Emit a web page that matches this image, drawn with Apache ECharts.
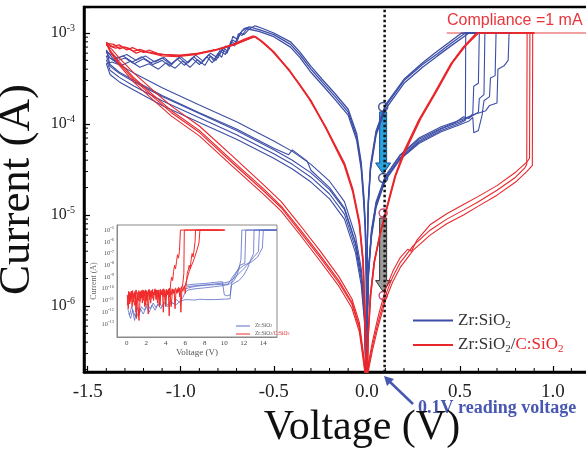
<!DOCTYPE html>
<html>
<head>
<meta charset="utf-8">
<script src="https://cdn.jsdelivr.net/npm/echarts@6/dist/echarts.min.js"></script>
<style>
  html, body { margin: 0; padding: 0; background: #fff; }
  #chart { width: 586px; height: 450px; }
</style>
</head>
<body>
<div id="chart"></div>
<script>
// ---- data: [voltage (V), current (A)] ----

// Zr:SiO2, positive sweep in HRS, SET steps up to compliance
const blueHrsPos = [
  [[0.0002,1.5e-7],[0.003,7e-7],[0.01,2.4e-6],[0.025,6e-6],[0.05,1.25e-5],[0.1,2.45e-5],[0.18,4.2e-5],[0.28,6.3e-5],[0.4,8.5e-5],[0.5,1.02e-4],[0.53,1.1e-4],[0.532,1e-3],[0.78,1e-3]],
  [[0.0002,1.5e-7],[0.003,7.5e-7],[0.01,2.6e-6],[0.025,6.5e-6],[0.05,1.35e-5],[0.1,2.6e-5],[0.18,4.5e-5],[0.28,6.8e-5],[0.4,9e-5],[0.48,1.05e-4],[0.52,1.2e-4],[0.55,1.15e-4],[0.57,1.3e-4],[0.575,2.6e-4],[0.6,2.8e-4],[0.605,1e-3],[0.78,1e-3]],
  [[0.0002,1.5e-7],[0.003,6.5e-7],[0.01,2.2e-6],[0.025,5.6e-6],[0.05,1.2e-5],[0.1,2.4e-5],[0.18,4.1e-5],[0.28,6.1e-5],[0.4,8.2e-5],[0.5,9.8e-5],[0.55,1.08e-4],[0.57,1.18e-4],[0.575,8e-5],[0.6,8.5e-5],[0.62,1.25e-4],[0.63,1.8e-4],[0.66,2e-4],[0.665,3.2e-4],[0.69,3.4e-4],[0.695,1e-3],[0.78,1e-3]],
  [[0.0002,1.5e-7],[0.003,8e-7],[0.01,2.7e-6],[0.025,6.8e-6],[0.05,1.4e-5],[0.1,2.7e-5],[0.18,4.6e-5],[0.28,7e-5],[0.4,9.3e-5],[0.5,1.1e-4],[0.58,1.28e-4],[0.64,1.4e-4],[0.66,1.6e-4],[0.7,1.7e-4],[0.705,4e-4],[0.74,4.4e-4],[0.76,5e-4],[0.765,1e-3],[0.78,1e-3]],
  [[0.0002,1.5e-7],[0.003,7e-7],[0.01,2.5e-6],[0.025,6.2e-6],[0.05,1.3e-5],[0.1,2.5e-5],[0.18,4.3e-5],[0.28,6.5e-5],[0.4,8.8e-5],[0.5,1.06e-4],[0.56,1.2e-4],[0.6,1.35e-4],[0.605,1.9e-4],[0.63,2.1e-4],[0.635,1e-3],[0.78,1e-3]]
];
// Zr:SiO2, LRS back to 0
const blueLrsPos = [
  [[0.78,1e-3],[0.53,1e-3],[0.45,7.6e-4],[0.38,5.9e-4],[0.3,4.5e-4],[0.2,3e-4],[0.1,1.55e-4],[0.05,8e-5],[0.02,3.3e-5],[0.008,1.35e-5],[0.003,5e-6],[0.0008,1.4e-6],[0.0001,1.5e-7]],
  [[0.78,1e-3],[0.55,1e-3],[0.46,7.4e-4],[0.38,5.6e-4],[0.3,4.2e-4],[0.2,2.8e-4],[0.1,1.45e-4],[0.05,7.5e-5],[0.02,3.1e-5],[0.008,1.25e-5],[0.003,4.6e-6],[0.0008,1.3e-6],[0.0001,1.5e-7]],
  [[0.78,1e-3],[0.51,1e-3],[0.44,7.8e-4],[0.37,6.1e-4],[0.3,4.7e-4],[0.2,3.1e-4],[0.1,1.62e-4],[0.05,8.4e-5],[0.02,3.5e-5],[0.008,1.4e-5],[0.003,5.3e-6],[0.0008,1.5e-6],[0.0001,1.5e-7]]
];
// Zr:SiO2, negative sweep in LRS
const blueLrsNeg = [
  [[-0.0001,1.5e-7],[-0.002,2e-6],[-0.008,7.5e-6],[-0.016,1.5e-5],[-0.03,3.5e-5],[-0.054,7.2e-5],[-0.1,1.35e-4],[-0.17,2e-4],[-0.24,2.9e-4],[-0.3,4e-4],[-0.36,5.8e-4],[-0.41,7.5e-4],[-0.5,9.6e-4],[-0.575,1.08e-3],[-0.63,1.17e-3]],
  [[-0.0001,1.5e-7],[-0.002,1.8e-6],[-0.008,6.8e-6],[-0.016,1.35e-5],[-0.03,3.2e-5],[-0.054,6.6e-5],[-0.1,1.25e-4],[-0.17,1.85e-4],[-0.24,2.7e-4],[-0.3,3.7e-4],[-0.36,5.4e-4],[-0.41,7e-4],[-0.5,9.1e-4],[-0.58,1.04e-3],[-0.65,1.12e-3]],
  [[-0.0001,1.5e-7],[-0.002,2.2e-6],[-0.008,8.2e-6],[-0.016,1.65e-5],[-0.03,3.8e-5],[-0.054,7.8e-5],[-0.1,1.45e-4],[-0.17,2.15e-4],[-0.24,3.1e-4],[-0.3,4.3e-4],[-0.36,6.2e-4],[-0.41,8e-4],[-0.5,1e-3],[-0.56,1.12e-3],[-0.6,1.2e-3]]
];
// Zr:SiO2, noisy RESET towards -1.4 V
const blueReset = [
  [[-0.63,1.17e-3],[-0.66,1.12e-3],[-0.68,1.0e-3],[-0.7,8.6e-4],[-0.72,9.2e-4],[-0.74,6.6e-4],[-0.76,7.2e-4],[-0.78,5.4e-4],[-0.8,6e-4],[-0.83,4.7e-4],[-0.86,5.5e-4],[-0.9,4.5e-4],[-0.94,5.3e-4],[-0.98,4.4e-4],[-1.02,5.2e-4],[-1.06,4.3e-4],[-1.1,5e-4],[-1.15,4.5e-4],[-1.2,5.2e-4],[-1.25,4.6e-4],[-1.3,5.3e-4],[-1.35,4.9e-4],[-1.4,5.6e-4]],
  [[-0.65,1.12e-3],[-0.67,1.05e-3],[-0.69,9e-4],[-0.71,7.6e-4],[-0.73,8.2e-4],[-0.75,6e-4],[-0.78,6.6e-4],[-0.81,5e-4],[-0.84,5.6e-4],[-0.87,4.4e-4],[-0.91,5.1e-4],[-0.95,4.2e-4],[-0.99,4.9e-4],[-1.03,4.1e-4],[-1.08,4.7e-4],[-1.12,4e-4],[-1.17,4.6e-4],[-1.22,4.2e-4],[-1.27,4.9e-4],[-1.32,4.4e-4],[-1.37,4.8e-4],[-1.4,4.6e-4]],
  [[-0.6,1.2e-3],[-0.62,1.15e-3],[-0.64,1.06e-3],[-0.66,9.6e-4],[-0.68,1.0e-3],[-0.7,7.8e-4],[-0.72,8.4e-4],[-0.75,6.3e-4],[-0.77,6.9e-4],[-0.8,5.3e-4],[-0.84,6e-4],[-0.88,4.9e-4],[-0.92,5.7e-4],[-0.96,4.7e-4],[-1.0,5.5e-4],[-1.05,4.6e-4],[-1.09,5.4e-4],[-1.14,4.8e-4],[-1.19,5.6e-4],[-1.24,5e-4],[-1.29,5.8e-4],[-1.34,5.3e-4],[-1.4,6.2e-4]],
  [[-0.63,1.17e-3],[-0.65,1.08e-3],[-0.67,9.4e-4],[-0.69,9.8e-4],[-0.71,7.2e-4],[-0.73,7.8e-4],[-0.76,5.8e-4],[-0.79,6.4e-4],[-0.82,4.9e-4],[-0.85,5.8e-4],[-0.89,4.6e-4],[-0.93,5.5e-4],[-0.97,4.6e-4],[-1.01,5.4e-4],[-1.05,4.5e-4],[-1.1,5.3e-4],[-1.16,4.7e-4],[-1.21,5.5e-4],[-1.26,4.8e-4],[-1.31,5.6e-4],[-1.36,5.1e-4],[-1.4,6.5e-4]]
];
// Zr:SiO2, HRS back to 0 from -1.4 V
const blueHrsNeg = [
  [[-1.4,5.6e-4],[-1.38,4.3e-4],[-1.33,3.6e-4],[-1.25,2.9e-4],[-1.1,2e-4],[-0.9,1.3e-4],[-0.7,8.5e-5],[-0.5,5.2e-5],[-0.4,4e-5],[-0.3,2.9e-5],[-0.2,1.9e-5],[-0.12,1.15e-5],[-0.06,4.8e-6],[-0.03,2.2e-6],[-0.012,8e-7],[-0.004,1.5e-7]],
  [[-1.4,4.6e-4],[-1.38,3.5e-4],[-1.33,2.9e-4],[-1.25,2.35e-4],[-1.1,1.6e-4],[-0.9,1.04e-4],[-0.7,6.8e-5],[-0.5,4.2e-5],[-0.4,3.2e-5],[-0.3,2.3e-5],[-0.2,1.5e-5],[-0.12,9e-6],[-0.06,3.8e-6],[-0.03,1.7e-6],[-0.012,6.5e-7],[-0.004,1.5e-7]],
  [[-1.4,6.2e-4],[-1.38,5.3e-4],[-1.33,4.5e-4],[-1.25,3.6e-4],[-1.1,2.5e-4],[-0.9,1.62e-4],[-0.7,1.06e-4],[-0.5,6.5e-5],[-0.4,5e-5],[-0.3,3.6e-5],[-0.2,2.35e-5],[-0.12,1.4e-5],[-0.06,5.8e-6],[-0.03,2.6e-6],[-0.012,9.5e-7],[-0.004,1.6e-7]],
  [[-1.4,6.5e-4],[-1.38,4.5e-4],[-1.33,3.7e-4],[-1.25,3e-4],[-1.1,2.05e-4],[-0.9,1.33e-4],[-0.7,8.8e-5],[-0.5,5.4e-5],[-0.42,4.6e-5],[-0.4,5.2e-5],[-0.32,3.9e-5],[-0.3,3.1e-5],[-0.2,2e-5],[-0.12,1.2e-5],[-0.06,5e-6],[-0.03,2.3e-6],[-0.012,8.5e-7],[-0.004,1.5e-7]],
  [[-1.4,5.1e-4],[-1.38,3.9e-4],[-1.33,3.25e-4],[-1.25,2.6e-4],[-1.1,1.8e-4],[-0.9,1.17e-4],[-0.7,7.6e-5],[-0.5,4.7e-5],[-0.4,3.6e-5],[-0.3,2.6e-5],[-0.2,1.7e-5],[-0.12,1.02e-5],[-0.06,4.3e-6],[-0.03,1.95e-6],[-0.012,7.2e-7],[-0.004,1.5e-7]]
];

// Zr:SiO2/C:SiO2, positive sweep in HRS, SET near 0.87 V
const redHrsPos = [
  [[0.0003,1.5e-7],[0.01,2.2e-7],[0.03,3.6e-7],[0.06,6.5e-7],[0.1,1.3e-6],[0.14,2.1e-6],[0.18,3e-6],[0.25,4.6e-6],[0.34,6.8e-6],[0.43,9e-6],[0.52,1.13e-5],[0.6,1.4e-5],[0.7,1.87e-5],[0.8,2.6e-5],[0.85,3.3e-5],[0.86,3.6e-5],[0.862,1e-3],[0.9,1e-3]],
  [[0.0003,1.5e-7],[0.01,2.4e-7],[0.03,4e-7],[0.06,7.5e-7],[0.1,1.5e-6],[0.14,2.4e-6],[0.18,3.4e-6],[0.22,4.2e-6],[0.24,4.0e-6],[0.27,5.3e-6],[0.34,7.8e-6],[0.43,1.03e-5],[0.52,1.3e-5],[0.6,1.6e-5],[0.7,2.1e-5],[0.8,2.95e-5],[0.86,3.8e-5],[0.875,4.2e-5],[0.877,1e-3],[0.9,1e-3]],
  [[0.0003,1.5e-7],[0.01,2e-7],[0.03,3.2e-7],[0.06,5.8e-7],[0.1,1.15e-6],[0.14,1.85e-6],[0.18,2.65e-6],[0.25,4.1e-6],[0.34,6e-6],[0.43,8e-6],[0.52,1e-5],[0.6,1.25e-5],[0.7,1.65e-5],[0.8,2.3e-5],[0.86,3e-5],[0.89,3.5e-5],[0.892,1e-3],[0.9,1e-3]]
];
const redLrsPos = [
  [[0.9,1e-3],[0.59,1e-3],[0.52,7e-4],[0.45,4.5e-4],[0.36,2.1e-4],[0.28,1.1e-4],[0.2,5e-5],[0.15,2.6e-5],[0.1,1.05e-5],[0.07,6e-6],[0.04,3e-6],[0.02,1.3e-6],[0.008,5e-7],[0.002,1.5e-7]],
  [[0.9,1e-3],[0.6,1e-3],[0.53,7.2e-4],[0.46,4.7e-4],[0.37,2.2e-4],[0.29,1.15e-4],[0.21,5.2e-5],[0.155,2.7e-5],[0.104,1.1e-5],[0.072,6.2e-6],[0.041,3.1e-6],[0.02,1.3e-6],[0.008,5e-7],[0.002,1.5e-7]]
];
const redLrsNeg = [
  [[-0.002,1.5e-7],[-0.008,6e-7],[-0.02,3e-6],[-0.04,8e-6],[-0.075,1.8e-5],[-0.12,3.5e-5],[-0.215,8.6e-5],[-0.3,1.8e-4],[-0.36,2.7e-4],[-0.414,3.8e-4],[-0.5,6.2e-4],[-0.56,8e-4],[-0.6,9.2e-4]],
  [[-0.002,1.5e-7],[-0.008,6.5e-7],[-0.02,3.2e-6],[-0.04,8.5e-6],[-0.075,1.9e-5],[-0.12,3.7e-5],[-0.22,9.2e-5],[-0.31,1.9e-4],[-0.37,2.85e-4],[-0.42,4e-4],[-0.51,6.4e-4],[-0.57,8.2e-4],[-0.61,9.3e-4]]
];
const redReset = [
  [[-0.6,9.2e-4],[-0.65,8.4e-4],[-0.7,7.6e-4],[-0.8,6.6e-4],[-0.9,6e-4],[-1.0,5.7e-4],[-1.1,5.8e-4],[-1.18,6.2e-4],[-1.22,6.6e-4],[-1.25,6.3e-4],[-1.3,7e-4],[-1.33,6.7e-4],[-1.36,7.5e-4],[-1.4,7.7e-4]],
  [[-0.61,9.3e-4],[-0.66,8.5e-4],[-0.72,7.5e-4],[-0.82,6.5e-4],[-0.92,5.9e-4],[-1.02,5.6e-4],[-1.12,5.9e-4],[-1.17,6.5e-4],[-1.2,6.1e-4],[-1.26,6.9e-4],[-1.29,6.5e-4],[-1.33,7.4e-4],[-1.37,7.1e-4],[-1.4,7.9e-4]],
  [[-0.6,9.2e-4],[-0.66,8.2e-4],[-0.72,7.3e-4],[-0.82,6.4e-4],[-0.92,5.8e-4],[-1.02,5.5e-4],[-1.1,5.6e-4],[-1.16,6e-4],[-1.21,6.3e-4],[-1.24,6e-4],[-1.28,6.8e-4],[-1.32,7.1e-4],[-1.35,6.8e-4],[-1.4,7.4e-4]]
];
const redHrsNeg = [
  [[-1.4,7.7e-4],[-1.38,6.5e-4],[-1.33,4.8e-4],[-1.25,3.2e-4],[-1.15,2.1e-4],[-1.05,1.4e-4],[-0.9,8.5e-5],[-0.72,3.9e-5],[-0.55,1.9e-5],[-0.46,1.25e-5],[-0.36,7e-6],[-0.25,3.6e-6],[-0.15,1.9e-6],[-0.08,1.1e-6],[-0.04,6e-7],[-0.015,2.5e-7],[-0.005,1.5e-7]],
  [[-1.4,7.9e-4],[-1.38,6.2e-4],[-1.33,4.4e-4],[-1.25,2.85e-4],[-1.15,1.85e-4],[-1.05,1.22e-4],[-0.9,7.4e-5],[-0.72,3.4e-5],[-0.55,1.65e-5],[-0.46,1.1e-5],[-0.36,6.1e-6],[-0.25,3.1e-6],[-0.15,1.65e-6],[-0.08,9.5e-7],[-0.04,5.2e-7],[-0.015,2.2e-7],[-0.005,1.5e-7]],
  [[-1.4,7.4e-4],[-1.37,6.6e-4],[-1.33,5.3e-4],[-1.25,3.6e-4],[-1.15,2.35e-4],[-1.05,1.57e-4],[-0.9,9.5e-5],[-0.72,4.4e-5],[-0.55,2.1e-5],[-0.46,1.4e-5],[-0.36,7.8e-6],[-0.25,4e-6],[-0.15,2.1e-6],[-0.08,1.2e-6],[-0.04,6.6e-7],[-0.015,2.7e-7],[-0.005,1.5e-7]],
  [[-1.4,7.7e-4],[-1.38,6.3e-4],[-1.33,4.6e-4],[-1.25,3.05e-4],[-1.15,2e-4],[-1.05,1.33e-4],[-0.9,8.1e-5],[-0.72,3.7e-5],[-0.55,1.8e-5],[-0.46,1.2e-5],[-0.36,6.6e-6],[-0.25,3.4e-6],[-0.15,1.8e-6],[-0.08,1.05e-6],[-0.04,5.7e-7],[-0.015,2.4e-7],[-0.005,1.5e-7]]
];

// compliance line, reading voltage, arrows and markers
const compliance = [[0.43,1e-3],[1.2,1e-3]];
const readLine = [[0.096,1.8e-3],[0.096,1.5e-7]];
const arrowData = [[0.088,1.54e-4,2.55e-5],[0.088,1.05e-5,1.3e-6]];
const blueMarks = [[0.088,1.54e-4],[0.088,2.55e-5]];
const redMarks = [[0.088,1.05e-5],[0.088,1.3e-6]];

// inset: forming sweeps (0 - 15 V)
const insetBlue = [
  [[0.1,2e-12],[0.3,6e-13],[0.5,3e-12],[0.7,1e-12],[0.9,4e-13],[1.1,2.5e-12],[1.3,8e-13],[1.5,3e-12],[1.8,1.5e-12],[2.1,5e-12],[2.4,2e-12],[2.7,6e-12],[3.0,2.5e-12],[3.3,7e-12],[3.6,3e-12],[3.9,8e-12],[4.2,4e-12],[4.5,9e-12],[4.8,5e-12],[5.1,1.2e-11],[5.4,7e-12],[5.7,1.5e-11],[6.0,5e-11],[6.3,8e-11],[7,1e-10],[8,1.2e-10],[9,1.5e-10],[10,1.9e-10],[10.5,2.5e-10],[11,5e-10],[11.3,1.5e-9],[11.5,5e-9],[11.7,3e-8],[11.8,1e-5],[15.4,1e-5]],
  [[0.2,8e-13],[0.4,3e-13],[0.6,1.5e-12],[0.8,2e-13],[1.0,1e-12],[1.2,4e-13],[1.4,2e-12],[1.7,7e-13],[2.0,3e-12],[2.3,1e-12],[2.6,4e-12],[2.9,1.5e-12],[3.2,5e-12],[3.5,2e-12],[3.8,6e-12],[4.2,3e-12],[4.6,7e-12],[5.0,4e-12],[5.5,9e-12],[6.0,1.2e-11],[7,1.1e-11],[7.5,1.3e-11],[8,1.2e-11],[9,1.2e-11],[10,1.3e-11],[10.6,1.4e-11],[10.7,2e-10],[11,3e-10],[11.5,5e-10],[12,1.5e-9],[12.4,6e-9],[12.7,3e-8],[13,1e-7],[13.05,1e-5],[15.4,1e-5]],
  [[6.0,1e-10],[7,1.6e-10],[8,2e-10],[9,2.6e-10],[10,3.2e-10],[10.5,4e-10],[11,8e-10],[11.5,2e-9],[12,5e-9],[12.5,1.5e-8],[13,5e-8],[13.5,1.5e-7],[13.6,1e-5],[15.4,1e-5]],
  [[6.0,2e-10],[7,2.5e-10],[8,2.8e-10],[9,3.5e-10],[9.8,4e-10],[10,3e-11],[10.3,2.5e-11],[10.6,3e-11],[10.8,5e-10],[11.2,2e-9],[11.6,1e-8],[12.1,1.5e-8],[12.2,1e-5],[15.4,1e-5]],
  [[6.2,1.5e-10],[7.5,2e-10],[9,2.2e-10],[10.4,2.5e-10],[10.9,1.2e-9],[11.4,4e-9],[12,1e-8],[12.8,2e-8],[13.4,5e-8],[13.9,3e-7],[14,1e-5],[15.4,1e-5]]
];
const insetRed = [
  [[0.05,3e-11],[0.15,2e-12],[0.25,5e-11],[0.35,1e-11],[0.45,6e-11],[0.55,3e-12],[0.65,4e-11],[0.75,1.5e-11],[0.85,6e-11],[0.95,1e-12],[1.05,5e-11],[1.15,2e-11],[1.25,7e-11],[1.35,8e-12],[1.45,6e-11],[1.55,2e-11],[1.65,8e-11],[1.75,1e-11],[1.85,6e-11],[1.95,4e-12],[2.05,7e-11],[2.15,2e-11],[2.25,8e-11],[2.35,1.2e-11],[2.45,6e-11],[2.55,2.5e-11],[2.65,9e-11],[2.75,1e-11],[2.85,7e-11],[2.95,3e-11],[3.05,8e-11],[3.15,6e-12],[3.25,7e-11],[3.35,2e-11],[3.45,9e-11],[3.55,3e-11],[3.65,8e-11],[3.75,1e-12],[3.85,7e-11],[3.95,2.5e-11],[4.05,9e-11],[4.15,3e-11],[4.25,8e-11],[4.35,5e-13],[4.45,7e-11],[4.55,3e-11],[4.65,1e-10],[4.75,4e-11],[4.85,9e-11],[4.95,2e-12],[5.05,8e-11],[5.15,4e-11],[5.25,1e-10],[5.35,5e-11],[5.45,1.2e-10],[5.55,1e-12],[5.65,1e-10],[5.75,3e-10],[5.85,2e-9],[5.9,1e-5],[10.1,1e-5]],
  [[0.1,1e-11],[0.2,6e-11],[0.3,5e-12],[0.4,4e-11],[0.5,1.5e-11],[0.6,7e-11],[0.7,8e-12],[0.8,5e-11],[0.9,2e-11],[1.0,3e-13],[1.1,3e-11],[1.2,1e-11],[1.3,5e-11],[1.4,2e-11],[1.5,7e-11],[1.6,6e-12],[1.7,5e-11],[1.8,2.5e-11],[1.9,8e-11],[2.0,1e-11],[2.1,5e-11],[2.2,7e-13],[2.3,6e-11],[2.4,2e-11],[2.5,7e-11],[2.6,1.5e-11],[2.7,5e-11],[2.8,3e-11],[2.9,8e-11],[3.0,1.2e-11],[3.1,6e-11],[3.2,2e-11],[3.3,8e-11],[3.4,4e-12],[3.5,6e-11],[3.6,3e-11],[3.7,9e-11],[3.8,2e-11],[3.9,7e-11],[4.0,3e-12],[4.1,6e-11],[4.2,3e-11],[4.3,1e-10],[4.4,2e-11],[4.5,3e-10],[4.6,1e-9],[4.7,5e-10],[4.8,3e-9],[4.9,1e-8],[5.0,5e-9],[5.1,2e-8],[5.2,8e-8],[5.3,4e-8],[5.4,1.5e-7],[5.5,1e-5],[9.5,1e-5]],
  [[0.05,4e-12],[0.2,3e-11],[0.35,8e-12],[0.5,6e-11],[0.65,2e-11],[0.8,4e-12],[0.95,8e-11],[1.1,3e-11],[1.25,2e-13],[1.4,5e-11],[1.55,1.5e-11],[1.7,7e-11],[1.85,3e-12],[2.0,6e-11],[2.15,2.5e-11],[2.3,9e-11],[2.45,6e-12],[2.6,7e-11],[2.75,3e-11],[2.9,1e-10],[3.05,1.5e-11],[3.2,8e-11],[3.35,3e-12],[3.5,7e-11],[3.65,3.5e-11],[3.8,1e-10],[3.95,1e-11],[4.1,8e-11],[4.25,4e-11],[4.4,1.1e-10],[4.55,3e-12],[4.7,9e-11],[4.85,4e-11],[5.0,1.2e-10],[5.15,5e-11],[5.3,1.3e-10],[5.45,2e-11],[5.6,1.5e-10],[5.75,6e-11],[5.9,1.8e-10],[6.0,4e-11],[6.1,3e-10],[6.2,2e-9],[6.3,4e-9],[6.4,1e-8],[6.5,5e-9],[6.6,3e-8],[6.7,1e-7],[6.8,5e-8],[6.9,2e-7],[7.0,1e-6],[7.05,1e-5],[10,1e-5]],
  [[5.8,1e-10],[6.0,2e-10],[6.2,8e-10],[6.4,3e-9],[6.6,8e-9],[6.8,2e-8],[7.0,6e-8],[7.2,2e-7],[7.4,8e-7],[7.5,1e-5],[10,1e-5]]
];

// axis ranges and ticks
const xMin = -1.52, xMax = 1.2;
const yMin = 1.88e-7, yMax = 1.93e-3;
const xMinorTicks = [-1.4,-1.3,-1.2,-1.1,-0.9,-0.8,-0.7,-0.6,-0.4,-0.3,-0.2,-0.1,0.1,0.2,0.3,0.4,0.6,0.7,0.8,0.9,1.1];
const yMinorTicks = [];
[1e-7, 1e-6, 1e-5, 1e-4].forEach(d => {
  [2, 3, 4, 5, 6, 7, 8, 9].forEach(m => yMinorTicks.push(m * d));
});

const BLUE = '#3c4ea6';
const RED = '#e8262b';
const serif = "'Liberation Serif', 'Times New Roman', serif";
const N_BLUE = 'Zr:SiO2';
const N_RED = 'Zr:SiO2/C:SiO2';

const lines = (list, name, color, width, gi) => list.map(d => ({
  type: 'line', name: name, data: d,
  xAxisIndex: gi, yAxisIndex: gi,
  symbol: 'none', showSymbol: false, silent: true,
  lineStyle: { color: color, width: width },
  itemStyle: { color: color }
}));

const expLabel = (lo, hi) => v => {
  const l = Math.log10(v);
  const e = Math.round(l);
  if (Math.abs(l - e) > 0.01 || e < lo || e > hi) return '';
  return '{b|10}{s|' + e + '}';
};

let chart = echarts.init(document.getElementById('chart'), null, { renderer: 'canvas' });

let option = {
  animation: false,
  backgroundColor: '#fff',
  grid: [
    { left: 84, top: 7, width: 506, height: 365, show: true, borderColor: '#000', borderWidth: 2.5, outerBoundsMode: 'none', containLabel: false },
    { left: 117, top: 225, width: 160, height: 112, show: true, borderColor: '#8a8a8a', borderWidth: 1, backgroundColor: '#fff', outerBoundsMode: 'none', containLabel: false }
  ],
  legend: [
    {
      data: [N_BLUE, N_RED], orient: 'vertical', left: 408, top: 307,
      icon: 'rect', itemWidth: 40, itemHeight: 2, itemGap: 6, selectedMode: false,
      formatter: n => n === N_BLUE ? '{t|Zr:SiO}{u|2}' : '{t|Zr:SiO}{u|2}{t|/}{r|C:SiO}{ru|2}',
      textStyle: {
        rich: {
          t: { fontFamily: serif, fontSize: 17, color: '#333' },
          u: { fontFamily: serif, fontSize: 11, color: '#333', padding: [9, 0, 0, 0] },
          r: { fontFamily: serif, fontSize: 17, color: RED },
          ru: { fontFamily: serif, fontSize: 11, color: RED, padding: [9, 0, 0, 0] }
        }
      }
    },
    {
      data: ['iBlue', 'iRed'], orient: 'vertical', left: 231, top: 318,
      icon: 'rect', itemWidth: 14, itemHeight: 1, itemGap: 2, selectedMode: false,
      formatter: n => n === 'iBlue' ? '{t|Zr:SiO}{u|2}' : '{t|Zr:SiO}{u|2}{t|/}{r|C:SiO}{ru|2}',
      textStyle: {
        rich: {
          t: { fontFamily: serif, fontSize: 5.5, color: '#555' },
          u: { fontFamily: serif, fontSize: 4, color: '#555' },
          r: { fontFamily: serif, fontSize: 5.5, color: RED },
          ru: { fontFamily: serif, fontSize: 4, color: RED }
        }
      }
    }
  ],
  xAxis: [
    {
      type: 'value', gridIndex: 0, min: xMin, max: xMax, splitNumber: 6,
      axisLine: { show: true, onZero: false, lineStyle: { color: '#000', width: 2.5 } },
      axisTick: { inside: true, length: 6, lineStyle: { color: '#000', width: 1.2 } },
      splitLine: { show: false },
      axisLabel: {
        margin: 11, fontFamily: serif, fontSize: 19, color: '#222',
        showMinLabel: true, showMaxLabel: true,
        formatter: v => Math.abs(v * 2 - Math.round(v * 2)) < 1e-6 ? v.toFixed(1) : ''
      },
      name: 'Voltage (V)', nameLocation: 'middle', nameGap: 35,
      nameTextStyle: { fontFamily: serif, fontSize: 42, color: '#111', padding: [0, 0, 0, 50] }
    },
    {
      type: 'value', gridIndex: 1, min: -1, max: 15.4, interval: 1,
      axisLine: { show: true, onZero: false, lineStyle: { color: '#8a8a8a', width: 1 } },
      axisTick: { show: false },
      splitLine: { show: false },
      axisLabel: {
        margin: 3, fontFamily: serif, fontSize: 7, color: '#444',
        formatter: v => (v >= 0 && v <= 14 && v % 2 === 0) ? String(v) : ''
      },
      name: 'Voltage (V)', nameLocation: 'middle', nameGap: 9,
      nameTextStyle: { fontFamily: serif, fontSize: 9, color: '#555' }
    }
  ],
  yAxis: [
    {
      type: 'log', logBase: 10, gridIndex: 0, min: yMin, max: yMax,
      axisLine: { show: true, onZero: false, lineStyle: { color: '#000', width: 2.5 } },
      axisTick: { inside: true, length: 6, lineStyle: { color: '#000', width: 1.2 } },
      splitLine: { show: false },
      axisLabel: {
        margin: 9, showMinLabel: true, showMaxLabel: true,
        formatter: expLabel(-6, -3),
        rich: {
          b: { fontFamily: serif, fontSize: 16, color: '#222' },
          s: { fontFamily: serif, fontSize: 10, color: '#222', padding: [0, 0, 10, 0] }
        }
      },
      name: 'Current (A)', nameLocation: 'middle', nameGap: 41, nameRotate: 90,
      nameTextStyle: { fontFamily: serif, fontSize: 45, color: '#111' }
    },
    {
      type: 'log', logBase: 10, gridIndex: 1, min: 7.8e-15, max: 2.7e-5, splitNumber: 10,
      axisLine: { show: true, onZero: false, lineStyle: { color: '#8a8a8a', width: 1 } },
      axisTick: { show: false },
      splitLine: { show: false },
      axisLabel: {
        margin: 3, showMinLabel: true, showMaxLabel: true,
        formatter: expLabel(-13, -5),
        rich: {
          b: { fontFamily: serif, fontSize: 6.5, color: '#555' },
          s: { fontFamily: serif, fontSize: 4.5, color: '#555', padding: [0, 0, 4, 0] }
        }
      },
      name: 'Current (A)', nameLocation: 'middle', nameGap: 17, nameRotate: 90,
      nameTextStyle: { fontFamily: serif, fontSize: 8, color: '#666' }
    }
  ],
  graphic: [
    {
      type: 'text', left: 447, top: 13, silent: true,
      style: { text: 'Compliance =1 mA', font: "16px 'Liberation Sans', sans-serif", fill: '#e8353b' }
    },
    {
      type: 'text', left: 418, top: 399, silent: true,
      style: { text: '0.1V reading voltage', font: "bold 18px 'Liberation Serif', serif", fill: '#4757b2' }
    },
    {
      type: 'line', silent: true,
      shape: { x1: 413, y1: 404, x2: 389, y2: 381 },
      style: { stroke: '#4757b2', lineWidth: 2.5 }
    },
    {
      type: 'polygon', silent: true,
      shape: { points: [[384, 376], [394, 379], [387, 386]] },
      style: { fill: '#4757b2' }
    }
  ],
  series: [
    {
      type: 'line', data: compliance, symbol: 'none', silent: true,
      lineStyle: { color: '#f3a0a0', width: 2 }
    },
    ...lines(blueHrsPos, N_BLUE, BLUE, 1.1, 0),
    ...lines(blueLrsPos, N_BLUE, BLUE, 1.3, 0),
    ...lines(blueLrsNeg, N_BLUE, BLUE, 1.3, 0),
    ...lines(blueReset, N_BLUE, BLUE, 1.1, 0),
    ...lines(blueHrsNeg, N_BLUE, BLUE, 1.1, 0),
    ...lines(redHrsPos, N_RED, RED, 1.1, 0),
    ...lines(redLrsPos, N_RED, RED, 1.6, 0),
    ...lines(redLrsNeg, N_RED, RED, 1.6, 0),
    ...lines(redReset, N_RED, RED, 1.3, 0),
    ...lines(redHrsNeg, N_RED, RED, 1.1, 0),
    {
      type: 'line', data: readLine, symbol: 'none', silent: true,
      lineStyle: { color: '#111', width: 2.5, type: 'dotted' }
    },
    // minor ticks of both main axes
    {
      type: 'custom', silent: true, data: xMinorTicks.map(v => [v, yMin]),
      renderItem: (params, api) => {
        const p = api.coord([api.value(0), yMin]);
        return { type: 'line', shape: { x1: p[0], y1: p[1], x2: p[0], y2: p[1] - 4 }, style: { stroke: '#000', lineWidth: 1 } };
      }
    },
    {
      type: 'custom', silent: true, data: yMinorTicks.map(v => [xMin, v]),
      renderItem: (params, api) => {
        const p = api.coord([xMin, api.value(1)]);
        return { type: 'line', shape: { x1: p[0], y1: p[1], x2: p[0] + 4, y2: p[1] }, style: { stroke: '#000', lineWidth: 1 } };
      }
    },
    // arrows between the states read at 0.1 V
    {
      type: 'custom', silent: true, data: arrowData, encode: { x: 0, y: 1 },
      renderItem: (params, api) => {
        const a = api.coord([api.value(0), api.value(1)]);
        const b = api.coord([api.value(0), api.value(2)]);
        const x = a[0], y1 = a[1] + 5, y2 = b[1] - 4;
        const sw = 3.5, hw = 7.5, hl = 11;
        const fill = params.dataIndex === 0 ? '#2aa2dd' : '#9b9b9b';
        const stroke = params.dataIndex === 0 ? '#1d4f8f' : '#333';
        return {
          type: 'polygon',
          shape: { points: [[x - sw, y1], [x + sw, y1], [x + sw, y2 - hl], [x + hw, y2 - hl], [x, y2], [x - hw, y2 - hl], [x - sw, y2 - hl]] },
          style: { fill: fill, stroke: stroke, lineWidth: 1 }
        };
      }
    },
    {
      type: 'scatter', data: blueMarks, symbol: 'circle', symbolSize: 9, silent: true,
      itemStyle: { color: 'rgba(255,255,255,0)', borderColor: '#24337a', borderWidth: 1.5 }
    },
    {
      type: 'scatter', data: redMarks, symbol: 'circle', symbolSize: 8, silent: true,
      itemStyle: { color: 'rgba(255,255,255,0)', borderColor: '#b8245a', borderWidth: 1.5 }
    },
    // inset
    ...lines(insetBlue, 'iBlue', '#5a6bc4', 0.8, 1),
    ...lines(insetRed, 'iRed', '#f02a2a', 1, 1)
  ]
};

if (option && typeof option === 'object') {
  chart.setOption(option);
}
</script>
</body>
</html>
